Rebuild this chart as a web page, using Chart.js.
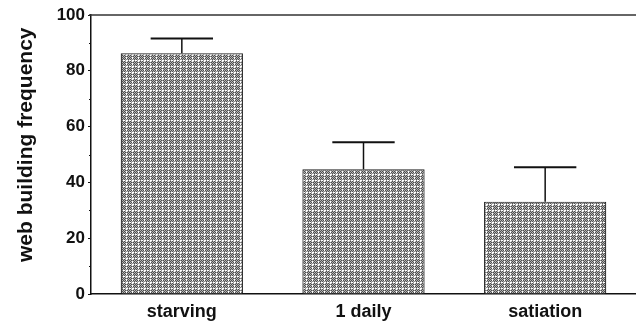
<!DOCTYPE html>
<html>
<head>
<meta charset="utf-8">
<script src="https://cdn.jsdelivr.net/npm/chart.js@4/dist/chart.umd.min.js"></script>
<style>
  html, body { margin: 0; padding: 0; background: #fff; }
  #wrap { width: 636px; height: 326px; }
</style>
</head>
<body>
<div id="wrap"><canvas id="c" width="636" height="326"></canvas></div>
<script>
// Feeding regime vs. web building frequency (mean + upper error)
const categories = ['starving', '1 daily', 'satiation'];
const means = [86.3, 44.7, 33.1];
const upperErrors = [5.3, 9.7, 12.3];
const yTitle = 'web building frequency';
const yMin = 0;
const yMax = 100;
const majorStep = 20;
const minorStep = 10;

const FONT = '"Liberation Sans", Arial, Helvetica, sans-serif';

// Halftone-like fill: grey checker crossed by broken white grid lines
function makePattern() {
  const size = 6;
  const c = document.createElement('canvas');
  c.width = size; c.height = size;
  const g = c.getContext('2d');
  for (let y = 0; y < size; y++) {
    for (let x = 0; x < size; x++) {
      let col;
      if (x === 0 || y === 0) {
        col = ((x + y) % 3 === 2) ? '#8a8a8a' : '#ffffff';
      } else {
        col = ((x + y) % 2) ? '#4e4e4e' : '#b4b4b4';
      }
      g.fillStyle = col;
      g.fillRect(x, y, 1, 1);
    }
  }
  return c;
}
const ctx0 = document.getElementById('c').getContext('2d');
const barFill = ctx0.createPattern(makePattern(), 'repeat');

// Upper error bars with caps, top frame line, minor y ticks and y title
const decorations = {
  id: 'decorations',
  afterDatasetsDraw(chart) {
    const { ctx, chartArea, scales } = chart;
    const ys = scales.y;
    const meta = chart.getDatasetMeta(0);
    ctx.save();
    ctx.strokeStyle = '#111';
    meta.data.forEach((bar, i) => {
      const x = bar.x;
      const yTop = ys.getPixelForValue(means[i] + upperErrors[i]);
      const yBar = ys.getPixelForValue(means[i]);
      const capHalf = bar.width * 0.255;
      ctx.lineWidth = 1.5;
      ctx.beginPath();
      ctx.moveTo(x, yBar);
      ctx.lineTo(x, yTop);
      ctx.stroke();
      ctx.lineWidth = 2;
      ctx.beginPath();
      ctx.moveTo(x - capHalf, yTop);
      ctx.lineTo(x + capHalf, yTop);
      ctx.stroke();
    });
    // frame line along the top of the plot
    const yT = ys.getPixelForValue(yMax);
    ctx.strokeStyle = '#333';
    ctx.lineWidth = 1.5;
    ctx.beginPath();
    ctx.moveTo(chartArea.left - 2, yT);
    ctx.lineTo(chartArea.right, yT);
    ctx.stroke();
    // minor ticks on the y axis
    ctx.strokeStyle = '#111';
    ctx.lineWidth = 1;
    for (let v = yMin + minorStep; v < yMax; v += majorStep) {
      const py = Math.round(ys.getPixelForValue(v)) + 0.5;
      ctx.beginPath();
      ctx.moveTo(chartArea.left - 2, py);
      ctx.lineTo(chartArea.left, py);
      ctx.stroke();
    }
    // rotated y-axis title
    ctx.fillStyle = '#111';
    ctx.font = 'bold 21px ' + FONT;
    ctx.textAlign = 'center';
    ctx.textBaseline = 'alphabetic';
    ctx.translate(32, ys.getPixelForValue(53.5));
    ctx.rotate(-Math.PI / 2);
    ctx.fillText(yTitle, 0, 0);
    ctx.restore();
  }
};

new Chart(document.getElementById('c'), {
  type: 'bar',
  data: {
    labels: categories,
    datasets: [{
      data: means,
      backgroundColor: barFill,
      borderColor: '#222',
      borderWidth: 1.2,
      borderSkipped: 'bottom',
      categoryPercentage: 1,
      barPercentage: 0.673
    }]
  },
  options: {
    responsive: false,
    animation: false,
    devicePixelRatio: 1,
    layout: { padding: { top: 15, right: -3, left: 0, bottom: 0 } },
    plugins: {
      legend: { display: false },
      tooltip: { enabled: false }
    },
    scales: {
      x: {
        grid: { display: true, drawOnChartArea: false, drawTicks: false },
        border: { display: true, color: '#111', width: 1.5 },
        ticks: {
          color: '#111',
          padding: 7,
          font: { family: FONT, size: 18, weight: 'bold', lineHeight: 1.2 }
        },
        afterFit(scale) { scale.height = 32; }
      },
      y: {
        min: yMin,
        max: yMax,
        ticks: {
          stepSize: majorStep,
          color: '#111',
          padding: 3,
          font: { family: FONT, size: 17, weight: 'bold', lineHeight: 1.2 }
        },
        grid: { drawOnChartArea: false, drawTicks: true, tickLength: 3, color: '#111', tickWidth: 1 },
        border: { display: true, color: '#111', width: 1.5 },
        afterFit(scale) { scale.width = 91; }
      }
    }
  },
  plugins: [decorations]
});
</script>
</body>
</html>
